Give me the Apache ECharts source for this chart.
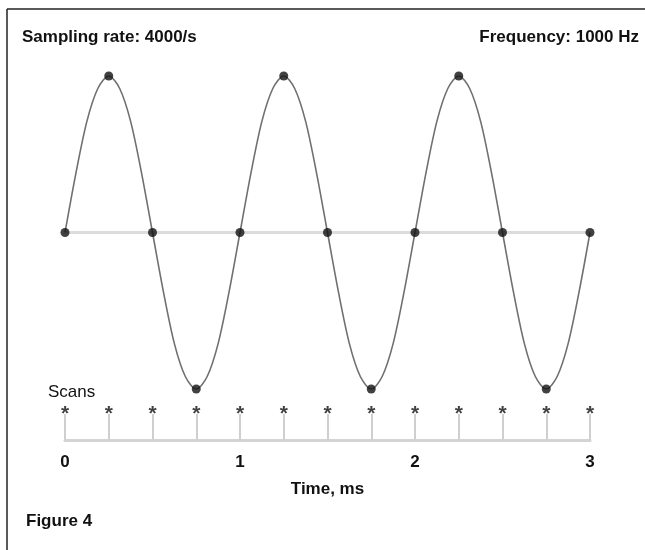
<!DOCTYPE html>
<html><head><meta charset="utf-8">
<script src="https://cdn.jsdelivr.net/npm/echarts@6/dist/echarts.min.js"></script>
<style>html,body{margin:0;padding:0;background:#fff}#c{width:645px;height:550px}</style>
</head><body><div id="c"></div>
<script>
// Sample (scan) points: time in ms, normalized amplitude
const sampleTimes = [0, 0.25, 0.5, 0.75, 1, 1.25, 1.5, 1.75, 2, 2.25, 2.5, 2.75, 3];
const sampleValues = [0, 1, 0, -1, 0, 1, 0, -1, 0, 1, 0, -1, 0];
// The drawn waveform, every 1/16 ms
const curveTimes = [0,0.0625,0.125,0.1875,0.25,0.3125,0.375,0.4375,0.5,0.5625,0.625,0.6875,0.75,0.8125,0.875,0.9375,
  1,1.0625,1.125,1.1875,1.25,1.3125,1.375,1.4375,1.5,1.5625,1.625,1.6875,1.75,1.8125,1.875,1.9375,
  2,2.0625,2.125,2.1875,2.25,2.3125,2.375,2.4375,2.5,2.5625,2.625,2.6875,2.75,2.8125,2.875,2.9375,3];
const curveValues = [0,0.38,0.71,0.92,1,0.92,0.71,0.38,0,-0.38,-0.71,-0.92,-1,-0.92,-0.71,-0.38,
  0,0.38,0.71,0.92,1,0.92,0.71,0.38,0,-0.38,-0.71,-0.92,-1,-0.92,-0.71,-0.38,
  0,0.38,0.71,0.92,1,0.92,0.71,0.38,0,-0.38,-0.71,-0.92,-1,-0.92,-0.71,-0.38,0];
const midlineTimes = [0, 3];
const midlineValues = [0, 0];
const scanTimes = [0, 0.25, 0.5, 0.75, 1, 1.25, 1.5, 1.75, 2, 2.25, 2.5, 2.75, 3];
const tickLabels = ['0', '1', '2', '3'];
const titleLeft = 'Sampling rate: 4000/s';
const titleRight = 'Frequency: 1000 Hz';
const scansLabel = 'Scans';
const axisName = 'Time, ms';
const figureLabel = 'Figure 4';

const FONT = '"Liberation Sans", Arial, Helvetica, sans-serif';
const chart = echarts.init(document.getElementById('c'), null, {renderer: 'canvas'});

const zip = (a, b) => a.map((v, i) => [v, b[i]]);

chart.setOption({
  animation: false,
  backgroundColor: '#fff',
  textStyle: {fontFamily: FONT},
  grid: [
    {left: 65, right: 55, top: 76, height: 313},
    {left: 65, right: 55, top: 412, height: 28}
  ],
  xAxis: [
    {gridIndex: 0, type: 'value', min: 0, max: 3, show: false},
    {gridIndex: 1, type: 'value', min: 0, max: 3, interval: 0.25,
     axisLine: {show: true, lineStyle: {color: '#d4d4d4', width: 3}},
     axisTick: {show: true, inside: true, length: 26, lineStyle: {color: '#cfcfcf', width: 2}},
     splitLine: {show: false},
     axisLabel: {show: true, margin: 14, fontSize: 17, fontWeight: 'bold', color: '#111', fontFamily: FONT,
       formatter: v => {
         const i = Math.round(v);
         return Math.abs(v - i) < 1e-6 ? tickLabels[i] : '';
       }},
     name: axisName, nameLocation: 'middle', nameGap: 41,
     nameTextStyle: {fontSize: 17, fontWeight: 'bold', color: '#111', fontFamily: FONT}}
  ],
  yAxis: [
    {gridIndex: 0, type: 'value', min: -1, max: 1, show: false},
    {gridIndex: 1, type: 'value', min: 0, max: 1, show: false}
  ],
  series: [
    {type: 'line', xAxisIndex: 0, yAxisIndex: 0, data: zip(midlineTimes, midlineValues),
     symbol: 'none', lineStyle: {color: '#dcdcdc', width: 3}, silent: true, z: 1},
    {type: 'line', xAxisIndex: 0, yAxisIndex: 0, data: zip(curveTimes, curveValues),
     smooth: 0.3, symbol: 'none', lineStyle: {color: '#707070', width: 1.6}, z: 2},
    {type: 'scatter', xAxisIndex: 0, yAxisIndex: 0, data: zip(sampleTimes, sampleValues),
     symbol: 'circle', symbolSize: 9, itemStyle: {color: '#111'}, z: 3},
    {type: 'scatter', xAxisIndex: 1, yAxisIndex: 1, data: scanTimes.map(t => [t, 1]),
     symbol: 'circle', symbolSize: 1, itemStyle: {color: 'rgba(0,0,0,0)'},
     label: {show: true, position: 'inside', formatter: '*', fontSize: 21, fontWeight: 'bold',
       color: '#111', fontFamily: FONT, offset: [0, 2]}, z: 3}
  ],
  graphic: [
    {type: 'line', shape: {x1: 7, y1: 9, x2: 645, y2: 9}, style: {stroke: '#222', lineWidth: 1.5}},
    {type: 'line', shape: {x1: 7, y1: 9, x2: 7, y2: 550}, style: {stroke: '#222', lineWidth: 1.5}},
    {type: 'text', left: 22, top: 29, style: {text: titleLeft, font: 'bold 17px ' + FONT, fill: '#111'}},
    {type: 'text', right: 6, top: 29, style: {text: titleRight, font: 'bold 17px ' + FONT, fill: '#111'}},
    {type: 'text', left: 48, top: 384, style: {text: scansLabel, font: '17px ' + FONT, fill: '#111'}},
    {type: 'text', left: 26, top: 513, style: {text: figureLabel, font: 'bold 17px ' + FONT, fill: '#111'}}
  ]
});
</script></body></html>
